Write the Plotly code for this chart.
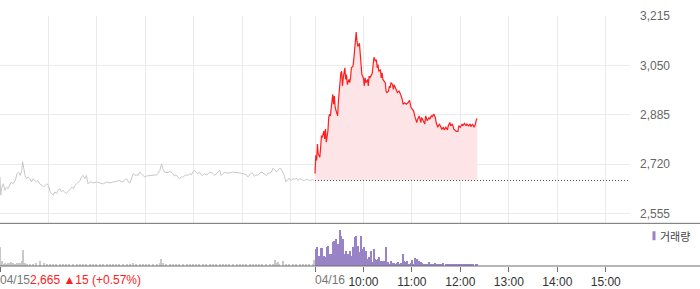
import plotly.graph_objects as go

# ---------------- data ----------------
prev_close = 2665
session_len = 390  # minutes per session (09:00-15:30)
y_ticks = [2555, 2720, 2885, 3050, 3215]
time_tick_minutes = [450, 510, 570, 630, 690, 750]
time_labels = ["10:00", "11:00", "12:00", "13:00", "14:00", "15:00"]
date_labels = ["04/15", "04/16"]
info_text = "2,665 \u25b215 (+0.57%)"
legend_label = "거래량"

# 04/15 price (minutes from open)
day1_min = [0, 1, 2, 4, 6, 8, 10, 12, 14, 16, 19, 21, 23, 25, 27, 28, 30, 31, 33, 35, 37, 39, 41, 43, 45, 47, 49,
            52, 54, 56, 58, 60, 62, 64, 66, 68, 70, 72, 74, 76, 78, 80, 82, 84, 87, 89, 91, 93, 95, 97, 99, 101,
            103, 105, 107, 109, 111, 113, 115, 119, 124, 128, 132, 136, 140, 144, 148, 152, 155, 157, 159, 161,
            163, 165, 167, 169, 171, 173, 175, 177, 179, 181, 185, 190, 194, 196, 198, 200, 202, 204, 206, 208,
            210, 212, 214, 216, 218, 220, 222, 225, 227, 229, 231, 233, 235, 237, 239, 241, 243, 245, 247, 249,
            251, 253, 255, 258, 260, 262, 264, 266, 268, 270, 272, 274, 276, 278, 280, 284, 288, 293, 297, 301,
            305, 307, 309, 311, 313, 315, 317, 319, 321, 323, 325, 328, 330, 332, 334, 336, 338, 340, 342, 344,
            346, 348, 350, 352, 354, 356, 358, 360, 363, 365, 367, 369, 371, 373, 375, 377, 379, 381, 383, 387, 389]
day1_price = [2677, 2616, 2638, 2654, 2632, 2643, 2638, 2649, 2660, 2654, 2665, 2688, 2693, 2682, 2699, 2728, 2693,
              2682, 2671, 2677, 2671, 2660, 2671, 2665, 2660, 2665, 2654, 2649, 2643, 2649, 2654, 2649, 2627, 2621,
              2616, 2627, 2621, 2632, 2638, 2627, 2632, 2627, 2621, 2627, 2638, 2643, 2638, 2649, 2654, 2660, 2665,
              2677, 2682, 2671, 2682, 2654, 2660, 2660, 2657, 2660, 2658, 2654, 2660, 2657, 2660, 2662, 2665, 2660,
              2669, 2671, 2660, 2657, 2677, 2688, 2682, 2684, 2682, 2693, 2688, 2682, 2677, 2680, 2682, 2682, 2684,
              2690, 2699, 2721, 2702, 2693, 2693, 2691, 2695, 2693, 2688, 2680, 2684, 2677, 2671, 2677, 2677, 2682,
              2684, 2682, 2688, 2684, 2695, 2699, 2691, 2688, 2693, 2684, 2682, 2688, 2684, 2688, 2693, 2691, 2688,
              2682, 2688, 2691, 2699, 2682, 2688, 2693, 2691, 2690, 2693, 2690, 2690, 2688, 2684, 2677, 2684, 2690,
              2688, 2679, 2684, 2682, 2688, 2693, 2691, 2684, 2682, 2690, 2690, 2693, 2706, 2702, 2693, 2699, 2706,
              2704, 2693, 2682, 2660, 2665, 2673, 2665, 2671, 2669, 2673, 2665, 2671, 2669, 2665, 2665, 2669, 2668,
              2665, 2668, 2665]

# 04/16 price (minutes from open)
day2_min = [0, 1, 2, 3, 4, 6, 7, 8, 9, 11, 12, 13, 14, 16, 17, 18, 19, 21, 22, 23, 24, 25, 27, 28, 29, 30, 32, 33,
            34, 35, 37, 38, 39, 40, 42, 43, 44, 45, 47, 48, 49, 50, 51, 52, 53, 55, 56, 57, 58, 60, 61, 62, 63, 65,
            66, 67, 68, 70, 71, 72, 73, 75, 76, 77, 78, 79, 81, 82, 83, 84, 86, 87, 88, 89, 91, 92, 93, 94, 96, 97,
            98, 100, 102, 104, 106, 108, 109, 111, 113, 115, 117, 119, 121, 122, 124, 126, 127, 129, 131, 132, 134,
            136, 137, 139, 141, 142, 144, 145, 147, 149, 150, 152, 154, 155, 157, 159, 160, 162, 164, 165, 167, 168,
            170, 172, 173, 175, 177, 178, 180, 182, 183, 185, 187, 188, 190, 192, 193, 195, 197, 198, 200, 201]
day2_price = [2688, 2749, 2732, 2787, 2754, 2743, 2776, 2815, 2809, 2831, 2804, 2837, 2793, 2831, 2876, 2887, 2881,
              2925, 2953, 2920, 2947, 2909, 2892, 2881, 2931, 2964, 3025, 3030, 2981, 3008, 3042, 3003, 3019, 2986,
              3003, 2992, 3008, 3042, 3047, 3069, 3097, 3135, 3161, 3130, 3113, 3124, 3086, 3042, 3019, 3008, 2981,
              3008, 2992, 3003, 2981, 3014, 3008, 3019, 3025, 3053, 3077, 3064, 3069, 3042, 3053, 3030, 3036, 3008,
              3025, 3003, 2997, 2992, 2964, 2959, 2964, 2981, 2975, 2992, 2986, 2970, 2985, 2970, 2959, 2964, 2953,
              2936, 2920, 2925, 2920, 2925, 2933, 2909, 2900, 2898, 2876, 2859, 2870, 2881, 2859, 2876, 2865, 2854,
              2881, 2865, 2876, 2870, 2881, 2878, 2887, 2876, 2859, 2843, 2854, 2848, 2837, 2843, 2834, 2843, 2834,
              2848, 2859, 2848, 2854, 2837, 2834, 2829, 2829, 2848, 2843, 2854, 2848, 2856, 2848, 2854, 2848, 2854,
              2845, 2854, 2843, 2848, 2870, 2870]

# volume (thousand shares, minutes from open)
day1_vol_min = [0, 2, 4, 6, 8, 10, 12, 14, 16, 19, 21, 23, 25, 27, 29, 31, 33, 37, 41, 45, 49, 54, 58, 62, 66, 70,
                74, 78, 82, 86, 91, 95, 99, 103, 107, 111, 115, 119, 124, 128, 132, 136, 140, 144, 148, 152, 157,
                161, 165, 169, 173, 177, 181, 185, 190, 194, 198, 200, 202, 206, 210, 214, 218, 222, 227, 231, 235,
                239, 243, 247, 251, 255, 260, 264, 268, 272, 276, 280, 284, 288, 293, 297, 301, 305, 309, 313, 317,
                321, 325, 330, 334, 338, 340, 342, 344, 346, 350, 354, 358, 363, 367, 371, 375, 379, 383, 387, 389]
day1_vol = [19, 5, 2, 3, 2, 3, 3, 4, 3, 2, 3, 3, 3, 5, 16, 3, 2, 2, 2, 3, 5, 3, 2, 2, 2, 2, 2, 2, 2, 2, 1, 2, 2,
            2, 2, 1, 1, 1, 1, 1, 1, 1, 1, 1, 1, 1, 1, 1, 3, 1, 1, 1, 1, 1, 1, 1, 3, 7, 3, 1, 1, 1, 1, 1, 1, 1, 1,
            1, 1, 1, 1, 1, 1, 1, 1, 1, 1, 1, 1, 1, 1, 1, 1, 1, 1, 1, 1, 1, 1, 1, 1, 1, 6, 3, 4, 2, 5, 2, 2, 2, 2,
            2, 2, 2, 2, 2, 6]
day2_vol_min = [1, 2, 4, 5, 6, 7, 9, 10, 11, 12, 14, 15, 16, 17, 19, 20, 22, 23, 25, 26, 27, 28, 30, 31, 32, 33,
                35, 36, 37, 38, 40, 41, 42, 43, 44, 46, 47, 48, 49, 51, 52, 53, 54, 56, 57, 58, 59, 61, 62, 63, 64,
                66, 67, 68, 69, 70, 72, 73, 74, 75, 77, 78, 79, 80, 82, 83, 84, 85, 86, 88, 89, 90, 91, 93, 94, 95,
                96, 98, 99, 100, 101, 103, 104, 106, 109, 110, 112, 114, 116, 119, 120, 122, 124, 126, 129, 131, 133,
                135, 137, 139, 141, 143, 145, 147, 149, 151, 153, 155, 157, 159, 162, 164, 166, 168, 170, 172, 174,
                176, 178, 180, 182, 184, 186, 188, 190, 192, 194, 196, 199, 201]
day2_vol = [17, 19, 9, 10, 5, 18, 18, 9, 10, 9, 9, 19, 20, 12, 9, 12, 24, 25, 17, 27, 14, 22, 9, 36, 30, 17, 27,
            9, 12, 15, 10, 12, 9, 13, 15, 10, 19, 14, 29, 30, 17, 20, 14, 12, 30, 12, 17, 19, 9, 15, 7, 5, 9, 4,
            7, 15, 4, 17, 7, 6, 6, 7, 9, 4, 5, 5, 5, 4, 5, 19, 3, 4, 3, 2, 5, 3, 2, 3, 2, 2, 3, 4, 2, 3, 12, 5, 4,
            5, 2, 3, 6, 1, 8, 7, 5, 4, 3, 2, 1, 2, 4, 2, 1, 1, 3, 2, 1, 2, 1, 3, 1, 2, 2, 1, 2, 1, 2, 1, 1, 2, 1,
            1, 2, 1, 1, 1, 1, 2, 1, 1]

# ---------------- styling ----------------
RED = "#ff1e1e"
FILL = "#fde5e7"
GRAY_LINE = "#c8c8c8"
PURPLE = "#9883c6"
GRID = "#ebebeb"
AXIS = "#6e6e6e"
FONT = "Liberation Sans, Arial, sans-serif"

day2_x = [session_len + m for m in day2_min]
total = 2 * session_len

fig = go.Figure()

fig.add_trace(go.Scatter(x=day1_min, y=day1_price, mode="lines",
                         line=dict(color=GRAY_LINE, width=1), hoverinfo="skip", showlegend=False))
fig.add_trace(go.Scatter(x=day2_x, y=[prev_close] * len(day2_x), mode="lines",
                         line=dict(width=0, color="rgba(0,0,0,0)"), hoverinfo="skip", showlegend=False))
fig.add_trace(go.Scatter(x=day2_x, y=day2_price, mode="lines", fill="tonexty", fillcolor=FILL,
                         line=dict(color=RED, width=1.2), hoverinfo="skip", showlegend=False))

fig.add_trace(go.Bar(x=day1_vol_min, y=day1_vol, width=1.4, marker=dict(color=GRAY_LINE, line=dict(width=0)),
                     xaxis="x2", yaxis="y2", showlegend=False, hoverinfo="skip"))
fig.add_trace(go.Bar(x=[session_len + m for m in day2_vol_min], y=day2_vol, width=1.35,
                     marker=dict(color=PURPLE, line=dict(width=0)),
                     xaxis="x2", yaxis="y2", showlegend=False, hoverinfo="skip"))

# baseline (previous close) across today's session
fig.add_shape(type="line", xref="x", yref="y", x0=session_len, x1=total, y0=prev_close, y1=prev_close,
              line=dict(color="#555555", width=1, dash="1px,2px"), layer="above")

split = 43 / 252.0  # volume panel share of plot height
grid_x = [h * 60 for h in range(7)] + [session_len + h * 60 for h in range(7)]

# panel separator and bottom axis lines (extend across full width)
for yy in (split, 0):
    fig.add_shape(type="line", xref="paper", yref="paper", x0=0, x1=700 / 630, y0=yy, y1=yy,
                  line=dict(color=AXIS, width=1), layer="above")

# legend swatch + label
fig.add_shape(type="rect", xref="paper", yref="paper", x0=652.5 / 630, x1=655.5 / 630,
              y0=(268 - 242) / 252, y1=(268 - 233) / 252, fillcolor=PURPLE, line=dict(width=0))
fig.add_annotation(xref="paper", yref="paper", x=658 / 630, y=(268 - 237.5) / 252, xanchor="left",
                   yanchor="middle", text=legend_label, showarrow=False,
                   font=dict(family="Noto Sans CJK KR", size=11, color="#444444"))

# date labels
fig.add_annotation(xref="x2", yref="paper", x=0, y=(268 - 282) / 252, xanchor="left", yanchor="middle",
                   showarrow=False, xshift=-2,
                   text=f"<span style='color:#777777'>{date_labels[0]}</span>"
                        f"<span style='color:#ff2020'>{info_text}</span>",
                   font=dict(family=FONT, size=12))
fig.add_annotation(xref="x2", yref="paper", x=session_len, y=(268 - 282) / 252, xanchor="left",
                   yanchor="middle", showarrow=False, xshift=-2, text=date_labels[1],
                   font=dict(family=FONT, size=12, color="#777777"))

fig.update_layout(
    width=700, height=289,
    margin=dict(l=0, r=70, t=16, b=21),
    paper_bgcolor="white", plot_bgcolor="white",
    bargap=0,
    showlegend=False,
    font=dict(family=FONT, size=12, color="#333333"),
    xaxis=dict(domain=[0, 1], range=[0, total], anchor="y", tickvals=grid_x, showticklabels=False,
               showgrid=True, gridcolor=GRID, gridwidth=1, zeroline=False, showline=False, ticks=""),
    yaxis=dict(domain=[split, 1], range=[y_ticks[0] - 10 * 165 / 49.75, y_ticks[-1]], side="right",
               tickvals=y_ticks, tickformat=",d", showgrid=True, gridcolor=GRID, zeroline=False,
               showline=False, ticks="", ticklabelstandoff=9,
               tickfont=dict(family=FONT, size=12, color="#666666")),
    xaxis2=dict(domain=[0, 1], range=[0, total], anchor="y2",
                tickvals=[0, session_len] + time_tick_minutes, ticktext=["", ""] + time_labels,
                ticks="outside", ticklen=5, tickcolor=AXIS, showgrid=False, zeroline=False, showline=False,
                tickfont=dict(family=FONT, size=12, color="#333333")),
    yaxis2=dict(domain=[0, split], range=[0, 43], showticklabels=False, showgrid=False, zeroline=False,
                showline=False, ticks=""),
)

fig.write_html("out.html")
